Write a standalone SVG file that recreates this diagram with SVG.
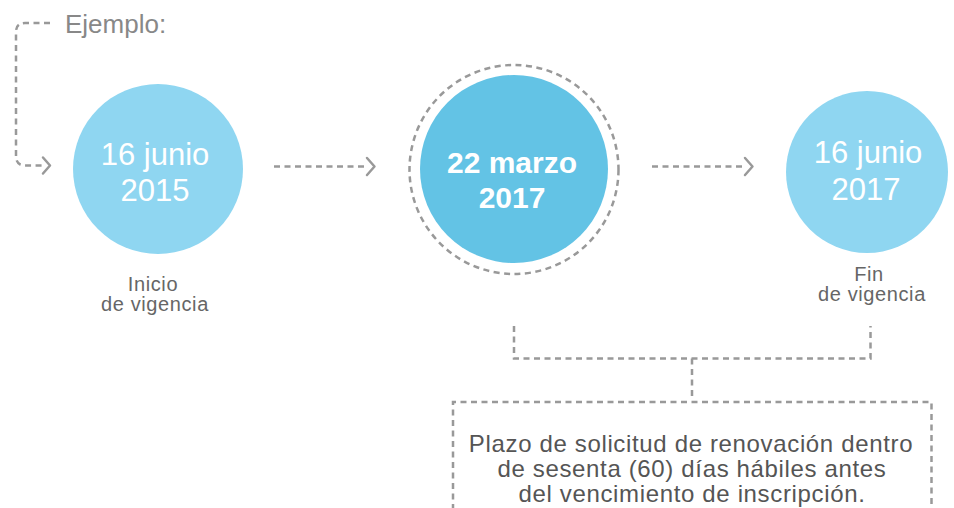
<svg xmlns="http://www.w3.org/2000/svg" width="954" height="508" viewBox="0 0 954 508">
<style>
.dash{fill:none;stroke:#999;stroke-width:2.5;stroke-dasharray:6 4.5}
.chev{fill:none;stroke:#999;stroke-width:2.5;stroke-linecap:round;stroke-linejoin:round}
.ct{font-family:"Liberation Sans",Arial,sans-serif;font-size:31px;fill:#fff;text-anchor:middle}
.cb{font-family:"Liberation Sans",Arial,sans-serif;font-size:30px;font-weight:bold;fill:#fff;text-anchor:middle}
.lb{font-family:"Liberation Sans",Arial,sans-serif;font-size:20px;letter-spacing:0.6px;fill:#666;text-anchor:middle}
.bx{font-family:"Liberation Sans",Arial,sans-serif;font-size:24px;letter-spacing:0.65px;fill:#555;text-anchor:middle}
.ej{font-family:"Liberation Sans",Arial,sans-serif;font-size:26px;fill:#888}
</style>
<g id="connectors">
<path class="dash" d="M50,23 H25 Q16,23 16,32 V156 Q16,165.5 25,165.5 H44"/>
<path class="chev" d="M43,157.5 L50,165.5 L43,173.5"/>
<path class="dash" d="M274,166.5 H368"/>
<path class="chev" d="M367,158 L374.5,166.5 L367,175"/>
<path class="dash" d="M652,166.5 H746"/>
<path class="chev" d="M745,158 L752.5,166.5 L745,175"/>
<path class="dash" d="M514,326 V358.5 H870.5 V326"/>
<path class="dash" d="M692,358.5 V400"/>
</g>
<g id="ejemplo">
<text class="ej" x="65" y="33">Ejemplo:</text>
</g>
<g id="node-inicio">
<circle cx="158" cy="169" r="85" fill="#8FD6F1"/>
<text class="ct" x="155" y="165">16 junio</text>
<text class="ct" x="155" y="201">2015</text>
<text class="lb" x="153" y="291">Inicio</text>
<text class="lb" x="155" y="311">de vigencia</text>
</g>
<g id="node-marzo">
<circle cx="514" cy="169.5" r="104.5" class="dash"/>
<circle cx="514" cy="169" r="94" fill="#63C3E5"/>
<text class="cb" x="512" y="173">22 marzo</text>
<text class="cb" x="512" y="208">2017</text>
</g>
<g id="node-fin">
<circle cx="867" cy="172" r="81" fill="#8FD6F1"/>
<text class="ct" x="868" y="163">16 junio</text>
<text class="ct" x="866" y="200">2017</text>
<text class="lb" x="869" y="281">Fin</text>
<text class="lb" x="872" y="301">de vigencia</text>
</g>
<g id="node-plazo">
<path class="dash" d="M453,510 V402 H931.5 V510"/>
<text class="bx" x="691" y="452">Plazo de solicitud de renovación dentro</text>
<text class="bx" x="692" y="477">de sesenta (60) días hábiles antes</text>
<text class="bx" x="692" y="502">del vencimiento de inscripción.</text>
</g>
</svg>
